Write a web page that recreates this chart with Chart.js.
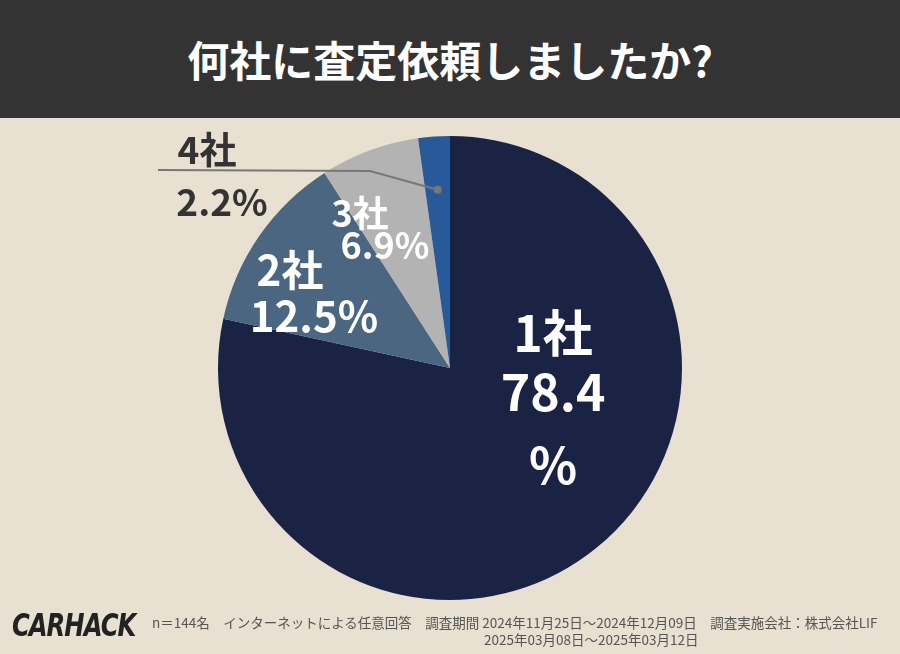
<!DOCTYPE html>
<html lang="ja">
<head>
<meta charset="UTF-8">
<script src="https://cdn.jsdelivr.net/npm/chart.js"></script>
<style>
  body { margin:0; width:900px; height:654px; background:#e8e0d0; font-family:"Noto Sans CJK JP", sans-serif; position:relative; overflow:hidden; }
  .header { position:absolute; left:0; top:0; width:900px; height:118px; background:#333333; color:#fff; font-size:42px; font-weight:bold; text-align:center; line-height:118px; z-index:2; }
  canvas { position:absolute; left:0; top:0; }
  .logo { position:absolute; left:12px; top:610px; font-size:27px; font-weight:900; font-style:italic; color:#222; letter-spacing:-1px; font-family:"DejaVu Sans Condensed", sans-serif; transform:scaleY(1.15); }
  .note { position:absolute; font-size:13.5px; color:#555; white-space:nowrap; }
</style>
</head>
<body>
<div class="header">何社に査定依頼しましたか?</div>
<div style="position:absolute;left:0;top:0;width:900px;height:654px"><canvas id="chart" width="900" height="654"></canvas></div>
<div class="logo">CARHACK</div>
<div class="note" style="left:152px;top:612px">n＝144名　インターネットによる任意回答　調査期間 2024年11月25日～2024年12月09日　調査実施会社：株式会社LIF</div>
<div class="note" style="left:484px;top:629px">2025年03月08日～2025年03月12日</div>
<script>
const categories = ["1社", "2社", "3社", "4社"];
const shares = [78.4, 12.5, 6.9, 2.2];
const sliceColors = ["#1a2344", "#4a6680", "#b3b3b3", "#285a9a"];

// label placement relative to pie centre: [dx, dy] per line, font size, colour
const labelStyle = {
  "1社": { lines: [[103, -35], [103, 24], [103, 97]], size: 50, color: "#fff", split: true },
  "2社": { lines: [[-160, -98], [-136, -52]], size: 42, color: "#fff" },
  "3社": { lines: [[-90, -155], [-65, -123]], size: 36, color: "#fff" },
  "4社": { lines: [[-243, -218], [-228, -166]], size: 37, color: "#333" }
};

const labelPlugin = {
  id: 'labels',
  afterDraw(chart) {
    const c = chart.ctx;
    const arc = chart.getDatasetMeta(0).data[0];
    const cx = arc.x, cy = arc.y, r = arc.outerRadius;
    c.save();
    // leader line for the small slice
    const a4 = chart.getDatasetMeta(0).data[3];
    const mid = (a4.startAngle + a4.endAngle) / 2;
    const px = cx + Math.cos(mid) * r * 0.77, py = cy + Math.sin(mid) * r * 0.77;
    c.strokeStyle = "#777"; c.lineWidth = 2;
    c.beginPath(); c.moveTo(158, 170); c.lineTo(370, 171); c.lineTo(px, py); c.stroke();
    c.fillStyle = "#777"; c.beginPath(); c.arc(px, py, 4, 0, Math.PI * 2); c.fill();
    c.textAlign = "center"; c.textBaseline = "middle";
    categories.forEach((cat, i) => {
      const s = labelStyle[cat];
      const texts = s.split ? [cat, shares[i].toFixed(1), "%"] : [cat, shares[i].toFixed(1) + "%"];
      c.fillStyle = s.color;
      c.font = "bold " + s.size + "px 'Noto Sans CJK JP'";
      texts.forEach((t, j) => c.fillText(t, cx + s.lines[j][0], cy + s.lines[j][1]));
    });
    c.restore();
  }
};

new Chart(document.getElementById('chart'), {
  type: 'pie',
  data: {
    labels: categories,
    datasets: [{ data: shares, backgroundColor: sliceColors, borderWidth: 0 }]
  },
  options: {
    responsive: false,
    animation: false,
    layout: { padding: { top: 136, bottom: 54, left: 218, right: 218 } },
    plugins: { legend: { display: false }, tooltip: { enabled: false } }
  },
  plugins: [labelPlugin]
});
</script>
</body>
</html>
